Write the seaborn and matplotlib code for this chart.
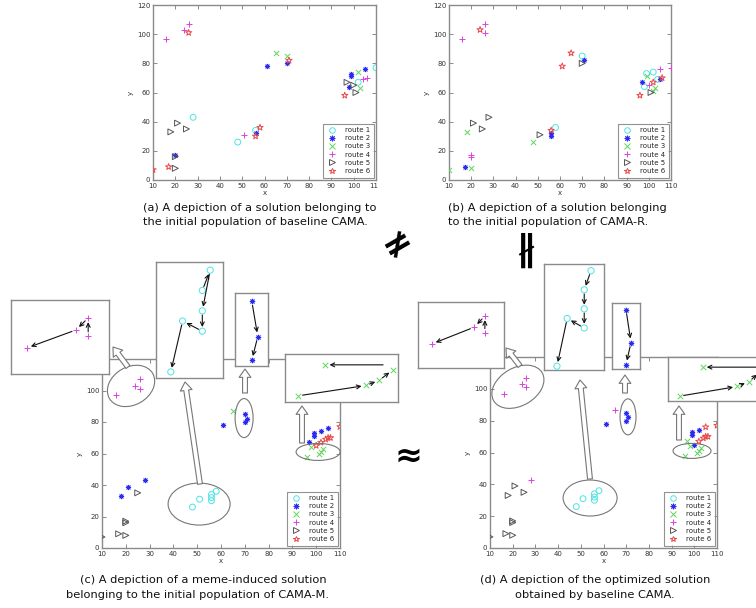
import matplotlib
matplotlib.use("Agg")
import matplotlib.pyplot as plt
import seaborn as sns
import pandas as pd
from matplotlib.patches import Ellipse, FancyArrowPatch, Rectangle
from matplotlib.lines import Line2D
from matplotlib.transforms import Affine2D, ScaledTranslation, IdentityTransform

sns.set_theme(style="white")
plt.rcParams["font.family"] = ["DejaVu Sans"]

W, H = 756, 608

# ---------------- data ----------------
route_names = ["route 1", "route 2", "route 3", "route 4", "route 5", "route 6"]
route_colors = ["#4fe3e3", "#2a2af0", "#5fd65f", "#e040e0", "#555555", "#e84a4a"]
route_markers = ["o", (8, 2, 0), "x", "+", ">", "*"]
route_hollow = [True, False, False, False, True, True]
route_sizes = [18, 10, 14, 22, 18, 22]

# panel (a): initial solution, baseline CAMA
a_route = [1]*5 + [2]*8 + [3]*4 + [4]*6 + [5]*8 + [6]*7
a_x = [28, 48, 56, 102, 110,
       20, 56, 61, 70, 98, 99, 99, 105,
       65, 70, 102, 103,
       16, 24, 26, 51, 104, 106,
       18, 21, 25, 20, 20, 97, 100, 101,
       10, 17, 26, 56, 58, 71, 96]
a_y = [43, 26, 34, 67, 77,
       17, 32, 78, 80, 64, 71, 73, 76,
       87, 85, 74, 63,
       97, 103, 107, 31, 69, 70,
       33, 39, 35, 16, 8, 67, 65, 60,
       7, 9, 101, 30, 36, 82, 58]

# panel (b): initial solution, CAMA-R
b_route = [1]*6 + [2]*6 + [3]*7 + [4]*8 + [5]*6 + [6]*7
b_x = [70, 58, 99, 102, 98, 104,
       71, 56, 56, 17, 97, 105,
       10, 18, 20, 48, 99, 102, 103,
       16, 26, 26, 20, 20, 100, 105, 110,
       21, 25, 28, 51, 70, 101,
       24, 65, 61, 56, 96, 102, 106]
b_y = [85, 36, 73, 74, 64, 69,
       82, 30, 32, 9, 67, 69,
       7, 33, 8, 26, 71, 61, 63,
       97, 107, 101, 17, 16, 65, 76, 77,
       39, 35, 43, 31, 80, 60,
       103, 87, 78, 34, 58, 67, 70]

# panel (c): meme-induced solution, CAMA-M
c_route = [1]*6 + [2]*12 + [3]*6 + [4]*4 + [5]*6 + [6]*6
c_x = [48, 51, 56, 56, 56, 58,
       18, 21, 28, 61, 70, 71, 70, 97, 99, 99, 102, 105,
       65, 96, 98, 101, 102, 103,
       16, 24, 26, 26,
       25, 20, 20, 10, 17, 20,
       100, 102, 104, 105, 106, 110]
c_y = [26, 31, 30, 32, 34, 36,
       33, 39, 43, 78, 85, 82, 80, 67, 71, 73, 74, 76,
       87, 58, 64, 60, 61, 63,
       97, 103, 107, 101,
       35, 16, 17, 7, 9, 8,
       65, 67, 69, 70, 70, 77]

# panel (d): optimized solution, baseline CAMA
d_route = [1]*6 + [2]*8 + [3]*6 + [4]*6 + [5]*8 + [6]*6
d_x = [48, 51, 56, 56, 56, 58,
       61, 70, 71, 70, 99, 99, 102, 100,
       96, 97, 98, 101, 102, 103,
       16, 24, 26, 26, 65, 28,
       18, 21, 25, 20, 20, 10, 17, 20,
       105, 110, 102, 104, 105, 106]
d_y = [26, 31, 30, 32, 34, 36,
       78, 85, 82, 80, 71, 73, 74, 65,
       58, 67, 64, 60, 61, 63,
       97, 103, 107, 101, 87, 43,
       33, 39, 35, 16, 17, 7, 9, 8,
       76, 77, 67, 69, 70, 70]

# visiting order of zoomed clusters
c_seq_r4 = [(26, 101), (26, 107), (24, 103), (16, 97)]
c_seq_r1 = [(56, 34), (58, 36), (56, 32), (56, 30), (51, 31), (48, 26)]
c_seq_r2 = [(70, 85), (71, 82), (70, 80)]
c_seq_r3 = [(96, 58), (101, 60), (102, 61), (103, 63)]
d_seq_r4 = [(26, 101), (26, 107), (24, 103), (16, 97)]
d_seq_r1 = [(58, 36), (56, 34), (56, 32), (56, 30), (51, 31), (48, 26)]
d_seq_r2 = [(70, 85), (71, 82), (70, 80)]
d_seq_r3 = [(96, 58), (101, 60), (102, 61), (103, 63)]

captions = {
    "a": ["(a) A depiction of a solution belonging to", "the initial population of baseline CAMA."],
    "b": ["(b) A depiction of a solution belonging", "to the initial population of CAMA-R."],
    "c": ["(c) A depiction of a meme-induced solution", "belonging to the initial population of CAMA-M."],
    "d": ["(d) A depiction of the optimized solution", "obtained by baseline CAMA."],
}

# ---------------- helpers ----------------
fig = plt.figure(figsize=(W / 100, H / 100), dpi=100)
fig.patch.set_facecolor("white")


def rect(l, t, r, b):
    return [l / W, 1 - b / H, (r - l) / W, (b - t) / H]


def draw_routes(ax, rx, ry, rr, only=None, scale=1.0):
    df = pd.DataFrame({"x": rx, "y": ry, "route": rr})
    for i in range(6):
        if only is not None and i + 1 != only:
            continue
        sub = df[df["route"] == i + 1]
        kw = dict(marker=route_markers[i], color=route_colors[i],
                  s=route_sizes[i] * scale, linewidth=0.7, legend=False,
                  ax=ax, zorder=3)
        if route_hollow[i]:
            kw.update(facecolor="none", edgecolor=route_colors[i])
        sns.scatterplot(data=sub, x="x", y="y", **kw)


def style_main(ax):
    ax.set_xlim(10, 110)
    ax.set_ylim(0, 120)
    ax.set_xticks(range(10, 111, 10))
    ax.set_yticks(range(0, 121, 20))
    ax.tick_params(direction="in", length=3, width=0.6, color="#777777",
                   labelsize=5, labelcolor="#333333", top=True, right=True,
                   bottom=True, left=True, pad=2)
    for s in ax.spines.values():
        s.set_color("#8a8a8a")
        s.set_linewidth(1.0)
    ax.set_xlabel("x", fontsize=5, labelpad=1, color="#333333")
    ax.set_ylabel("y", fontsize=5, labelpad=2, color="#333333")
    handles = []
    for i in range(6):
        handles.append(Line2D([], [], ls="none", marker=route_markers[i],
                              color=route_colors[i], markersize=4, mew=0.7,
                              mfc="none" if route_hollow[i] else route_colors[i],
                              label=route_names[i]))
    leg = ax.legend(handles=handles, loc="lower right", fontsize=5,
                    frameon=True, fancybox=False, edgecolor="#777777",
                    borderaxespad=0.35, handlelength=1.6, handletextpad=1.1,
                    labelspacing=0.32, borderpad=0.5)
    leg.get_frame().set_linewidth(0.8)
    leg.set_zorder(6)


def main_panel(box, rx, ry, rr):
    ax = fig.add_axes(rect(*box), zorder=1)
    draw_routes(ax, rx, ry, rr)
    style_main(ax)
    return ax


def inset(box, xlim, ylim, rx, ry, rr, route, seq, extra=()):
    ax = fig.add_axes(rect(*box), zorder=5)
    ax.set_facecolor("white")
    draw_routes(ax, rx, ry, rr, only=route, scale=1.1)
    ax.set_xlim(*xlim)
    ax.set_ylim(*ylim)
    ax.set_xticks([])
    ax.set_yticks([])
    ax.set_xlabel("")
    ax.set_ylabel("")
    for s in ax.spines.values():
        s.set_color("#8a8a8a")
        s.set_linewidth(1.0)
    pairs = list(zip(seq[:-1], seq[1:])) + list(extra)
    for p, q in pairs:
        ax.annotate("", xy=q, xytext=p,
                    arrowprops=dict(arrowstyle="->", color="#111111", lw=0.8,
                                    shrinkA=3, shrinkB=3, mutation_scale=7))
    return ax


def ellipse(ax, cx, cy, w, h, ang=0):
    tr = Affine2D() + ScaledTranslation(cx, cy, ax.transData)
    e = Ellipse((0, 0), w, h, angle=ang, transform=tr, fc="none",
                ec="#777777", lw=0.8, zorder=4, clip_on=False)
    ax.add_patch(e)


def block_arrow(x0, y0, x1, y1):
    a = FancyArrowPatch((x0, H - y0), (x1, H - y1), transform=IdentityTransform(),
                        arrowstyle="simple,head_length=6,head_width=8.5,tail_width=3.5",
                        fc="white", ec="#777777", lw=0.8, shrinkA=0, shrinkB=0,
                        mutation_scale=1, zorder=3)
    fig.patches.append(a)
    a.set_figure(fig)


# ---------------- panels ----------------
ax_a = main_panel((153, 5, 376, 180), a_x, a_y, a_route)
ax_b = main_panel((449, 5, 671, 180), b_x, b_y, b_route)
ax_c = main_panel((102, 359, 340, 548), c_x, c_y, c_route)
ax_d = main_panel((490, 357, 717, 548), d_x, d_y, d_route)

# insets for (c)
inset((11, 300, 109, 374), (13.4, 29.4), (88.3, 113), c_x, c_y, c_route, 4, c_seq_r4)
inset((156, 262, 223, 378), (44.25, 61.25), (25.4, 36.8), c_x, c_y, c_route, 1, c_seq_r1)
inset((235, 293, 268, 366), (67.2, 72.7), (79.5, 85.7), c_x, c_y, c_route, 2, c_seq_r2)
inset((285, 354, 398, 402), (95.0, 103.4), (56.8, 66.1), c_x, c_y, c_route, 3, c_seq_r3,
      extra=[((102.6, 64.0), (98.0, 64.0))])
# insets for (d)
inset((418, 302, 504, 368), (13.4, 29.6), (88.4, 112), d_x, d_y, d_route, 4, d_seq_r4)
inset((544, 264, 604, 370), (44.2, 61.8), (25.6, 36.7), d_x, d_y, d_route, 1, d_seq_r1)
inset((612, 303, 640, 369), (67.2, 72.8), (79.6, 85.6), d_x, d_y, d_route, 2, d_seq_r2)
inset((668, 357, 781, 401), (95.0, 104.8), (57.0, 66.1), d_x, d_y, d_route, 3, d_seq_r3,
      extra=[((105.5, 64.0), (98.0, 64.0))])

# cluster ellipses
ellipse(ax_c, 22.2, 102.9, 50, 38, 30)
ellipse(ax_c, 50.8, 27.9, 62, 42)
ellipse(ax_c, 69.7, 82.5, 18, 39)
ellipse(ax_c, 100.8, 61.0, 44, 17)
ellipse(ax_d, 22.3, 101.3, 56, 38, 30)
ellipse(ax_d, 54.1, 31.4, 54, 36)
ellipse(ax_d, 70.8, 82.4, 16, 36)
ellipse(ax_d, 99.0, 61.0, 38, 15)

# hollow call-out arrows (figure pixels)
block_arrow(128, 367, 113, 347)
block_arrow(200, 484, 185, 382)
block_arrow(245, 393, 245, 369)
block_arrow(302, 443, 302, 406)
block_arrow(520, 366, 506, 348)
block_arrow(590, 479, 580, 380)
block_arrow(625, 393, 625, 375)
block_arrow(679, 440, 679, 406)

# cover the clipped tick label at the right edge of (a)
fig.patches.append(Rectangle((378 / W, 1 - 196 / H), 12 / W, 16 / H,
                             transform=fig.transFigure, fc="white", ec="none",
                             zorder=10))

# captions
cap_kw = dict(fontsize=8.2, color="#111111")
fig.text(143 / W, 1 - 208 / H, captions["a"][0], ha="left", va="center", **cap_kw)
fig.text(143 / W, 1 - 222 / H, captions["a"][1], ha="left", va="center", **cap_kw)
fig.text(448 / W, 1 - 208 / H, captions["b"][0], ha="left", va="center", **cap_kw)
fig.text(448 / W, 1 - 222 / H, captions["b"][1], ha="left", va="center", **cap_kw)
fig.text(203 / W, 1 - 580 / H, captions["c"][0], ha="center", va="center", **cap_kw)
fig.text(197 / W, 1 - 595 / H, captions["c"][1], ha="center", va="center", **cap_kw)
fig.text(595 / W, 1 - 580 / H, captions["d"][0], ha="center", va="center", **cap_kw)
fig.text(595 / W, 1 - 595 / H, captions["d"][1], ha="center", va="center", **cap_kw)

# relation symbols
fig.text(397 / W, 1 - 243 / H, "\u2260", fontsize=26, rotation=30,
         ha="center", va="center", color="black", fontweight="bold")
fig.text(525 / W, 1 - 250 / H, "\u2226", fontsize=26, rotation=0,
         ha="center", va="center", color="black", fontweight="bold")
fig.text(408 / W, 1 - 456 / H, "\u2248", fontsize=24,
         ha="center", va="center", color="black", fontweight="bold")

fig.savefig("out.png", dpi=100)
